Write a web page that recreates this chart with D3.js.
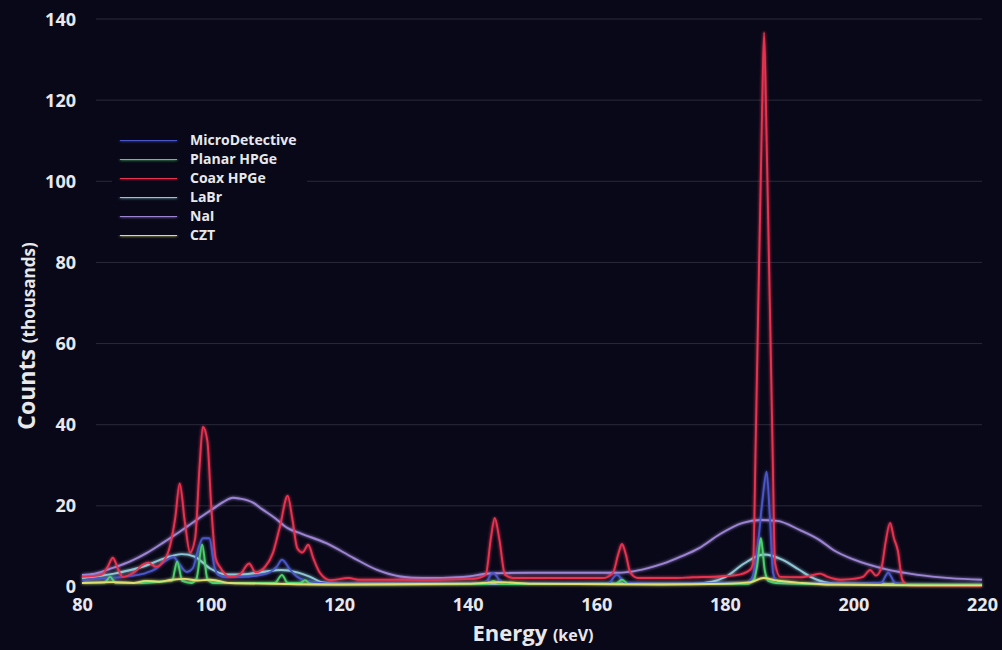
<!DOCTYPE html>
<html>
<head>
<meta charset="utf-8">
<script src="https://cdn.jsdelivr.net/npm/d3@7/dist/d3.min.js"></script>
<style>
  html, body { margin: 0; padding: 0; background: #080818; }
  svg { display: block; }
  text { font-family: "Open Sans", "Lato", sans-serif; font-weight: 700; fill: #e8e8ec; }
</style>
</head>
<body>
<div id="chart"></div>
<script>
// Axis ticks
var xTicks = [80, 100, 120, 140, 160, 180, 200, 220];
var yTicks = [0, 20, 40, 60, 80, 100, 120, 140];

// Series: [energy keV, counts (thousands)]
var microDetective = [[80,1.7],[84,2.2],[86,2.4],[88,2.8],[90,3.5],[91.5,4.5],[93,6.5],[94.2,7.4],[95.2,5.5],[96.3,3.7],[97.2,4.5],[98.2,10],[98.8,12],[99.8,12],[100.6,5],[101.2,3],[102.5,2.4],[106,2.6],[109,3.5],[110.3,5],[111.1,6.7],[112.4,4.2],[113.5,2.5],[116,1.2],[120,0.8],[140,0.8],[142.8,1.2],[143.9,3.5],[145.3,1.2],[147,0.8],[161.8,0.8],[163.2,3],[164.6,1],[170,0.8],[183.5,1.2],[184.3,2.5],[185,8.4],[185.8,20.7],[186.5,28.4],[187,17.3],[187.5,3.5],[188.2,1],[200,0.8],[204.3,1],[205.4,3.5],[206.5,1],[208,0.7],[220,0.6]];

var planarHPGe = [[80,1],[83.5,1.1],[84.4,2.5],[85.2,1],[89,1],[92,1.3],[94,1.5],[94.8,6.3],[95.6,1.5],[97,1],[97.8,2],[98.7,10.4],[99.5,2],[100.5,1],[110,1],[111.1,3],[112,1],[114,1],[114.7,1.7],[115.5,0.8],[120,0.6],[143,0.7],[144,1.5],[145,0.7],[163,0.8],[164,1.8],[165,0.7],[183.5,0.8],[184.5,1.7],[185,5],[185.6,12],[186.2,4.2],[186.8,1.5],[188,1],[200,0.6],[220,0.5]];

var coaxHPGe = [[80,2.5],[83,3],[84,5],[84.8,7.2],[85.6,4.5],[86.3,2.5],[88,3.5],[89.5,5.5],[90.3,6],[91.5,5],[92.5,6],[93.5,9],[94.5,17],[95.2,25.5],[96,16],[96.8,8.5],[97.6,12],[98.3,30],[98.8,39.5],[99.5,36],[100.1,20],[100.8,7],[101.5,4.8],[103,2.5],[104.5,3],[106,5.8],[107,3.6],[108.5,5],[109.7,8.4],[110.8,15],[112,22.5],[112.7,17],[113.5,9.5],[114.3,8.5],[115.2,10.4],[116,7],[117,3.5],[118.6,1.7],[121.5,2.2],[123,1.8],[127,1.8],[135,1.8],[141,2],[142.8,3],[143.6,12],[144.2,17],[144.9,12],[145.8,3],[147,2.2],[155,2.2],[161,2.2],[162.6,3.5],[163.4,8],[164,10.6],[164.6,8],[165.3,3.5],[166.5,2.2],[172,2.2],[175,2.4],[179,2.6],[182,3],[183.9,4.2],[184.4,6],[184.8,36],[185.7,110],[186.1,136.7],[186.5,110],[187.4,36],[187.8,6],[188.6,2.5],[192,2.4],[193.8,3],[194.8,3.3],[196,2.5],[198,1.8],[200,2],[201.5,2.5],[202.6,4.2],[203.5,2.8],[204.4,5],[205,11],[205.7,15.8],[206.3,12],[206.9,9],[207.6,1.8],[208.5,0.4],[220,0.3]];

var laBr = [[80,2.2],[85,3.3],[90,5.3],[93,7.2],[95.5,8.1],[97.5,7.5],[100,4.5],[102.5,3.1],[105,3.1],[108,3.7],[111,4.2],[113.5,3.6],[115.5,2.5],[117.5,1.1],[120,0.8],[175,0.8],[178,1.3],[180,2.4],[183,5.8],[186,8],[189,6.7],[191.5,4.3],[194,2],[197,0.9],[220,0.6]];

var naI = [[80,3],[82,3.3],[84.8,4.7],[87.5,6.3],[90.1,8.4],[92.7,11],[95.2,13.6],[97.8,16.5],[100.4,19.3],[102,21],[103.5,22],[104.5,21.8],[106.6,20.8],[108,19.2],[110,17],[112,14.5],[114,13.2],[118,10.8],[122.2,7.2],[125.9,4.2],[129.5,2.6],[133,2.2],[139.3,2.5],[143.9,3.4],[150,3.5],[162.6,3.5],[165.5,3.8],[167.9,4.6],[170.5,5.8],[173,7.4],[176,9.6],[179.2,13],[182.8,15.8],[185.5,16.5],[188.1,16.3],[191.7,14],[194.8,11.5],[197,9],[200,6.8],[205,4.4],[210,3],[215,2.2],[220,1.8]];

var czt = [[80,1],[85,1.2],[88,1],[90,1.5],[92,1.3],[94,1.8],[96,2],[98,1.6],[100,1.8],[103,1],[110,0.8],[120,0.6],[140,0.8],[145,1.2],[150,0.8],[170,0.6],[180,0.8],[184,1.2],[186,2.2],[188,1.6],[192,1],[197,0.6],[210,0.4],[220,0.4]];

var seriesNames = ["MicroDetective", "Planar HPGe", "Coax HPGe", "LaBr", "NaI", "CZT"];
var seriesData = [microDetective, planarHPGe, coaxHPGe, laBr, naI, czt];
var seriesColors = ["#4b56c9", "#4fd06c", "#e8334f", "#8fc6d6", "#9c84d2", "#dede72"];
// back to front
var drawOrder = [4, 3, 0, 2, 1, 5];

var width = 1002, height = 650;

var svg = d3.select("#chart").append("svg")
    .attr("width", width)
    .attr("height", height);

svg.append("rect")
    .attr("width", width)
    .attr("height", height)
    .attr("fill", "#080818");

// Soft glow like the video frame (user space so flat legend lines still render)
var glow = svg.append("defs").append("filter")
    .attr("id", "glow")
    .attr("filterUnits", "userSpaceOnUse")
    .attr("x", 0).attr("y", 0)
    .attr("width", width).attr("height", height);
glow.append("feGaussianBlur").attr("stdDeviation", 1.6).attr("result", "blur");
var merge = glow.append("feMerge");
merge.append("feMergeNode").attr("in", "blur");
merge.append("feMergeNode").attr("in", "SourceGraphic");

var x = d3.scaleLinear().domain([80, 220]).range([82, 982]);
var y = d3.scaleLinear().domain([0, 140]).range([587, 19]);

// Gridlines
svg.append("g")
    .selectAll("line")
    .data(yTicks.filter(function(d) { return d > 0; }))
    .enter().append("line")
      .attr("x1", 96)
      .attr("x2", 982)
      .attr("y1", function(d) { return y(d); })
      .attr("y2", function(d) { return y(d); })
      .attr("stroke", "#2a2a3c")
      .attr("stroke-width", 1);

// Y axis labels
var yAxis = svg.append("g")
    .attr("transform", "translate(76,0)")
    .call(d3.axisLeft(y).tickValues(yTicks).tickSize(0).tickPadding(0));
yAxis.select(".domain").remove();
yAxis.selectAll("text")
    .attr("font-size", 18)
    .attr("dy", function(d) { return d === 0 ? "0.3em" : "0.34em"; })
    .style("font-family", "'Open Sans', sans-serif")
    .style("font-weight", 700)
    .attr("fill", "#e8e8ec");

// X axis labels
var xAxis = svg.append("g")
    .attr("transform", "translate(0,598)")
    .call(d3.axisBottom(x).tickValues(xTicks).tickSize(0).tickPadding(0));
xAxis.select(".domain").remove();
xAxis.selectAll("text")
    .attr("font-size", 18)
    .style("font-family", "'Open Sans', sans-serif")
    .style("font-weight", 700)
    .attr("fill", "#e8e8ec");

// Lines
var line = d3.line()
    .x(function(d) { return x(d[0]); })
    .y(function(d) { return y(d[1]); })
    .curve(d3.curveMonotoneX);

svg.append("g")
    .attr("filter", "url(#glow)")
    .selectAll("path")
    .data(drawOrder)
    .enter().append("path")
      .attr("d", function(i) { return line(seriesData[i]); })
      .attr("fill", "none")
      .attr("stroke", function(i) { return seriesColors[i]; })
      .attr("stroke-width", 1.9)
      .attr("stroke-linejoin", "round");

// Legend (dark box hides the grid behind it)
var legend = svg.append("g");
legend.append("rect")
    .attr("x", 112).attr("y", 128)
    .attr("width", 195).attr("height", 120)
    .attr("fill", "#080818");

var rows = legend.selectAll("g.row")
    .data(seriesNames)
    .enter().append("g")
      .attr("class", "row")
      .attr("transform", function(d, i) { return "translate(0," + (140 + i * 19) + ")"; });

rows.append("line")
    .attr("x1", 120).attr("x2", 177)
    .attr("y1", 0).attr("y2", 0)
    .attr("stroke", function(d, i) { return seriesColors[i]; })
    .attr("stroke-width", 2)
    .attr("filter", "url(#glow)");

rows.append("text")
    .attr("x", 190)
    .attr("dy", "0.35em")
    .attr("font-size", 14)
    .text(function(d) { return d; });

// Axis titles
var yTitle = svg.append("text")
    .attr("transform", "translate(35,336) rotate(-90)")
    .attr("text-anchor", "middle");
yTitle.append("tspan").attr("font-size", 23).text("Counts ");
yTitle.append("tspan").attr("font-size", 17).text("(thousands)");

var xTitle = svg.append("text")
    .attr("x", 533)
    .attr("y", 641)
    .attr("text-anchor", "middle");
xTitle.append("tspan").attr("font-size", 22).text("Energy ");
xTitle.append("tspan").attr("font-size", 16).text("(keV)");
</script>
</body>
</html>
